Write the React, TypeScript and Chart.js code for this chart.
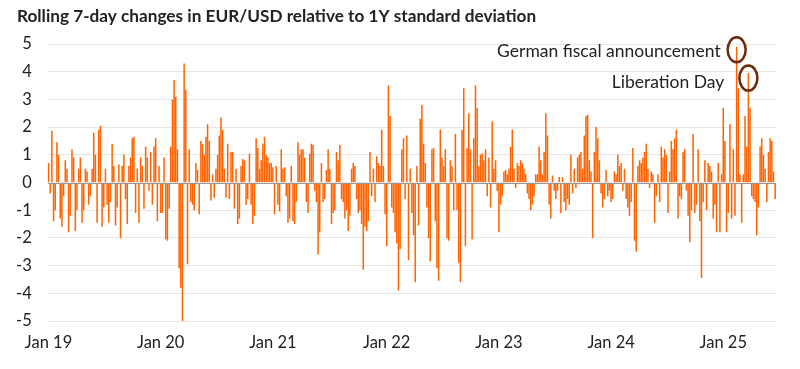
import React, { useEffect, useRef } from 'react';
import { Chart, registerables } from 'chart.js';

Chart.register(...registerables);

const TITLE = 'Rolling 7-day changes in EUR/USD relative to 1Y standard deviation';
const yearTickLabels = ['Jan 19', 'Jan 20', 'Jan 21', 'Jan 22', 'Jan 23', 'Jan 24', 'Jan 25'];
const yearTickIndex = [0, 67, 134, 202, 269, 336, 403];

// Rolling 7-day change / 1Y std dev (2019 - mid 2025)
const valuesPart1 = [
  0.7, -0.4, 1.87, -1.4, -1.0, 1.45, 1.0, -1.3, -1.6, -0.5,
  0.8, 0.5, -1.8, -1.2, 1.2, 0.9, -1.75, -1.0, 0.5, 0.9,
  -1.45, -1.0, 0.5, 0.4, -0.8, -0.5, 0.5, 1.8, 1.0, -1.45,
  1.9, 2.05, -1.6, -0.9, 0.5, -0.8, -1.45, -0.7, 1.4, 0.6,
  -1.55, -0.9, 0.65, -2.0, 0.6, 1.0, -0.6, -1.5, 0.6, 0.9,
  1.6, 1.65, -1.1, 0.5, -1.45, 0.9, 0.6, -0.95, 1.3, 0.9,
  -0.3, 1.1, -0.8, 1.3, 1.6, -1.4, 0.6, -1.1, -1.1, 0.9,
  -2.05, -2.1, -0.95, 1.3, 3.0, 3.7, 3.1, 1.2, -3.1, -3.8,
  -5.0, 4.3, 3.35, -2.95, 1.2, -0.7, -0.8, -1.0, 0.7, 0.45,
  -1.15, 1.5, 1.4, 1.0, 1.65, 2.1, 1.5, -0.65, 0.3, -0.55,
  0.5, 1.0, 1.7, 2.35, 1.9, 0.5, -0.55, 1.4, -0.6,
];
const valuesPart2 = [
  1.1, 1.1, -0.95, 0.5, -1.5, -1.3, 0.6, 0.85, 0.8, -0.8,
  -0.6, 1.05, -0.8, -1.5, -1.2, 1.6, 1.25, 0.5, 0.8, 1.4,
  1.65, 1.0, 0.9, 0.7, 0.7, 0.55, -1.15, 0.6, -0.8, -1.05,
  1.2, 0.5, 0.55, -0.5, -1.45, -1.3, 0.6, -1.4, -1.5, -0.7,
  1.45, 1.0, 1.2, 1.2, 0.9, -0.7, -1.1, 1.05, 1.4, 1.35,
  -0.3, -0.7, -2.6, -1.8, 0.7, -0.7, -0.6, 0.45, 1.2, 0.5,
  -1.5, -1.1, -1.0, 1.1, 0.8, 1.35, -0.6, -0.7, -1.3, -1.0,
  -1.75, -1.2, 0.5, 0.7, 0.6, -0.6, -1.1, -1.0, -1.5, -3.15,
  -1.6, -1.75, -1.4, 1.1, -0.5, 0.5, -0.7, 0.95, 0.7, 0.6,
  1.9, 0.6, -1.15, -2.3, 3.5, 2.4, -0.9, -1.1, -1.8, -2.2,
  -3.9, -2.4, 1.2, 1.6, -0.6, 1.7, -2.8, 0.5, -1.1,
];
const valuesPart3 = [
  -1.9, -3.6, 0.6, -1.55, 2.3, 2.8, 1.4, 0.7, -0.9, -2.0,
  -2.85, 1.2, 1.25, -1.4, -3.1, -3.55, 1.9, 0.9, 0.6, 1.2,
  -2.0, -2.1, 0.8, 0.6, -1.0, 1.75, -1.0, -2.9, -3.6, 1.9,
  3.4, -2.3, 1.25, 2.5, 1.2, -2.05, 1.6, 3.5, 2.7, 0.6,
  1.0, 1.05, 0.8, 1.2, -0.5, 0.9, -0.9, 2.2, 0.5, 0.8,
  -0.3, -1.8, -0.8, -0.5, 0.4, 0.45, 0.3, 0.5, 1.3, 1.9,
  0.5, -0.2, 0.7, 0.6, 0.8, 0.7, 0.5, 0.3, -0.4, -0.6,
  -1.0, -0.8, -0.5, 0.3, 0.3, 1.3, 0.8, 0.3, 1.1, 2.5,
  1.7, -0.8, -1.3, 0.25, -0.3, -0.6, -0.3, 0.2, -1.1, 0.2,
  -0.7, -1.0, -0.6, -0.8, 1.0, -0.4, 0.5, -0.2, 0.9, 1.0,
  1.1, 0.5, 1.7, 2.4, 2.45, 0.8, 0.4, -2.0, 1.1,
];
const valuesPart4 = [
  2.0, 1.6, 0.8, -0.4, -0.9, -0.6, 0.45, -0.5, -0.3, -0.7,
  -0.6, 0.4, 0.3, 1.0, 0.6, 0.7, -0.3, 0.5, -0.6, -0.9,
  -1.2, -0.7, 1.25, -2.1, -2.5, 0.6, 0.8, 0.7, 0.9, 1.1,
  1.4, 0.5, -0.2, 0.4, 0.3, -1.45, -0.5, 0.3, -0.7, 1.3,
  0.9, 1.2, 1.0, -1.1, 0.4, 1.5, 1.2, 1.6, 1.9, -1.3,
  -0.5, -0.6, 1.1, 1.2, -0.3, -1.2, -2.15, -1.0, 1.75, -1.1,
  -0.8, 1.2, -1.4, -3.45, -0.7, 0.8, -1.0, 0.7, 0.6, 0.4,
  -1.3, -0.8, -1.8, 0.7, -1.8, 0.3, 2.7, 1.5, -1.8, -1.1,
  2.1, -1.3, 1.2, -1.2, 4.9, 3.4, 0.3, -1.45, 0.3, 2.4,
  1.3, 3.95, 2.7, -0.5, -0.6, -0.7, -1.9, -0.9, 1.3, 1.6,
  1.0, 0.5, -0.7, 1.1, 1.6, 1.5, 0.4, -0.6,
];

const annotationTexts = ['German fiscal announcement', 'Liberation Day'];
const annotationIndex = [411, 418];

const values = [...valuesPart1, ...valuesPart2, ...valuesPart3, ...valuesPart4];
const labels = values.map((_, i) => String(i));

const FONT = 'Lato, "Noto Sans", sans-serif';
const annotationStyle = [
  { dy: 3, gap: 16, textDy: 2 },
  { dy: 5, gap: 24, textDy: 4 },
];

const overlay = {
  id: 'overlay',
  afterDatasetsDraw(chart: any) {
    const { ctx, chartArea, scales } = chart;
    const xs = scales.x;
    const ys = scales.y;
    ctx.save();
    const y0 = Math.round(ys.getPixelForValue(0)) + 0.5;
    ctx.strokeStyle = '#a09590';
    ctx.lineWidth = 1;
    ctx.beginPath();
    ctx.moveTo(chartArea.left, y0);
    ctx.lineTo(chartArea.right, y0);
    ctx.stroke();

    // x axis year labels
    ctx.fillStyle = '#222';
    ctx.font = '16.5px ' + FONT;
    ctx.textAlign = 'center';
    ctx.textBaseline = 'middle';
    yearTickLabels.forEach((t, k) => {
      ctx.fillText(t, xs.getPixelForValue(yearTickIndex[k]), chartArea.bottom + 22);
    });

    annotationTexts.forEach((text, k) => {
      const idx = annotationIndex[k];
      const st = annotationStyle[k];
      const cx = xs.getPixelForValue(idx);
      const cy = ys.getPixelForValue(values[idx]) + st.dy;
      ctx.strokeStyle = '#6b2a0c';
      ctx.lineWidth = 2.5;
      ctx.beginPath();
      ctx.ellipse(cx, cy, 9, 12.5, 0, 0, Math.PI * 2);
      ctx.stroke();
      ctx.fillStyle = '#222';
      ctx.font = '17.5px ' + FONT;
      ctx.textAlign = 'right';
      ctx.textBaseline = 'middle';
      ctx.fillText(text, cx - st.gap, cy + st.textDy);
    });

    ctx.fillStyle = '#222';
    ctx.font = 'bold 17.2px ' + FONT;
    ctx.textAlign = 'left';
    ctx.textBaseline = 'middle';
    ctx.fillText(TITLE, 17, 16);
    ctx.restore();
  },
};

export default function App() {
  const ref = useRef<HTMLCanvasElement | null>(null);
  useEffect(() => {
    if (!ref.current) return;
    const chart = new Chart(ref.current, {
      type: 'bar',
      data: {
        labels,
        datasets: [
          {
            data: values,
            backgroundColor: '#FF6200',
            borderWidth: 0,
            barPercentage: 0.9,
            categoryPercentage: 1,
          },
        ],
      },
      options: {
        animation: false,
        responsive: true,
        maintainAspectRatio: false,
        layout: { padding: { left: 0, right: 24, top: 44, bottom: 48 } },
        plugins: {
          legend: { display: false },
          tooltip: { enabled: false },
          title: { display: false },
        },
        scales: {
          x: {
            grid: { display: false, drawTicks: false },
            border: { display: false },
            ticks: { display: false },
          },
          y: {
            min: -5,
            max: 5,
            ticks: {
              stepSize: 1,
              padding: 16,
              color: '#222',
              font: { family: FONT, size: 16.5 },
            },
            grid: { color: '#e6e6e6', drawTicks: false, lineWidth: 1 },
            border: { display: false },
          },
        },
      },
      plugins: [overlay],
    });
    return () => chart.destroy();
  }, []);
  return (
    <div style={{ position: 'fixed', left: 0, top: 0, width: 800, height: 369, background: '#fff' }}>
      <canvas ref={ref} />
    </div>
  );
}
